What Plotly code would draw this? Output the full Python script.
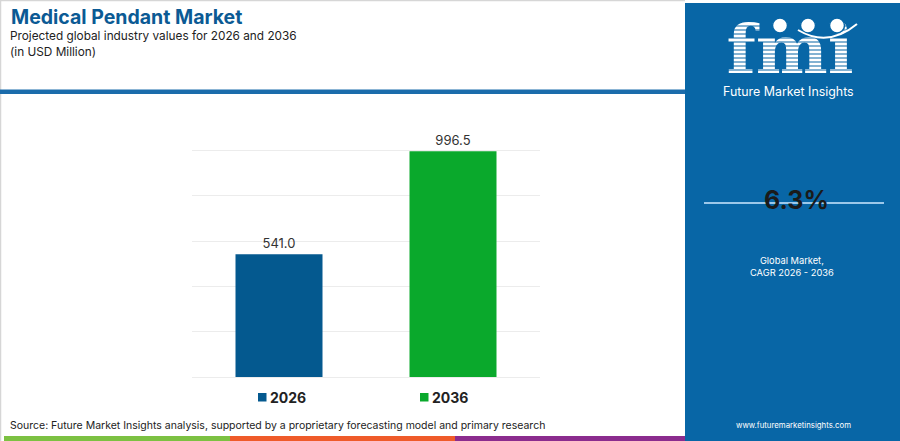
import plotly.graph_objects as go

# chart values
years = ["2026", "2036"]
values = [541.0, 996.5]
bar_colors = ["#04598f", "#0aa92c"]
cagr = "6.3%"

W, H = 900, 441
# plot area in pixels (left, right, top, bottom)
PL, PR, PT, PB = 192, 540, 105, 377


def px(x):
    return x / W


def py(y):
    return 1 - y / H


FONT = "Inter, 'Open Sans', sans-serif"
PANEL = "#0866a6"

fig = go.Figure()
for yr, v, c in zip(years, values, bar_colors):
    fig.add_trace(go.Bar(
        x=[yr], y=[v], name=yr,
        marker=dict(color=c, line=dict(width=0)),
        width=0.5,
        text=[f"{v:.1f}"], textposition="outside",
        textfont=dict(size=13, color="#333333", family=FONT),
        cliponaxis=False, showlegend=False,
    ))

# logo letters on a full-page overlay axis so the stripes can sit on top
fig.add_trace(go.Scatter(
    x=[790], y=[56], text=["<b>fmi</b>"], mode="text",
    textposition="middle center",
    textfont=dict(size=68, color="white", family="DejaVu Serif"),
    xaxis="x2", yaxis="y2", showlegend=False, hoverinfo="skip",
))

shapes = []
# right side panel
shapes.append(dict(type="rect", xref="paper", yref="paper",
                   x0=px(685), x1=px(900), y0=py(441), y1=py(3),
                   fillcolor=PANEL, line=dict(width=0), layer="below"))
# header frame + blue rule
shapes.append(dict(type="line", xref="paper", yref="paper",
                   x0=px(0), x1=px(685), y0=py(0.5), y1=py(0.5),
                   line=dict(color="#d6d6d6", width=1.5)))
shapes.append(dict(type="line", xref="paper", yref="paper",
                   x0=px(0.5), x1=px(0.5), y0=py(0), y1=py(441),
                   line=dict(color="#d6d6d6", width=1.5)))
shapes.append(dict(type="rect", xref="paper", yref="paper",
                   x0=px(0), x1=px(685), y0=py(94), y1=py(89.5),
                   fillcolor="#1b6cab", line=dict(width=0)))
# bottom colour stripe
for x0, x1, c in [(4, 230, "#7cc142"), (230, 455, "#ef5b2a"), (455, 685, "#8b2c8e")]:
    shapes.append(dict(type="rect", xref="paper", yref="paper",
                       x0=px(x0), x1=px(x1), y0=py(441), y1=py(436),
                       fillcolor=c, line=dict(width=0)))
# stripes across the logo letters
for yy in range(26, 76, 4):
    shapes.append(dict(type="line", xref="paper", yref="paper",
                       x0=px(715), x1=px(865), y0=py(yy), y1=py(yy),
                       line=dict(color=PANEL, width=1.2)))
# globes + arc above the logo
for cx in [780, 808, 837]:
    shapes.append(dict(type="circle", xref="paper", yref="paper",
                       x0=px(cx - 7.5), x1=px(cx + 7.5), y0=py(33), y1=py(18),
                       fillcolor="white", line=dict(color=PANEL, width=1.5)))
shapes.append(dict(type="path", xref="paper", yref="paper",
                   path=f"M {px(798)},{py(30)} Q {px(828)},{py(48)} {px(857)},{py(24)}",
                   line=dict(color="white", width=2)))
# line behind the CAGR value
shapes.append(dict(type="line", xref="paper", yref="paper",
                   x0=px(704), x1=px(884), y0=py(203), y1=py(203),
                   line=dict(color="#9cc8ea", width=2), layer="below"))
# legend squares
leg_x = [258, 420]
for lx, c in zip(leg_x, bar_colors):
    shapes.append(dict(type="rect", xref="paper", yref="paper",
                       x0=px(lx), x1=px(lx + 8.5), y0=py(401.5), y1=py(393),
                       fillcolor=c, line=dict(width=0)))

annotations = [
    dict(text="<b>Medical Pendant Market</b>", x=px(9), y=py(17),
         xanchor="left", yanchor="middle",
         font=dict(size=19.5, color="#0b5a94", family=FONT)),
    dict(text="Projected global industry values for 2026 and 2036", x=px(8), y=py(36),
         xanchor="left", yanchor="middle",
         font=dict(size=11.8, color="#222222", family=FONT)),
    dict(text="(in USD Million)", x=px(8), y=py(52),
         xanchor="left", yanchor="middle",
         font=dict(size=11.8, color="#222222", family=FONT)),
    dict(text="Source: Future Market Insights analysis, supported by a proprietary forecasting model and primary research",
         x=px(8), y=py(425), xanchor="left", yanchor="middle",
         font=dict(size=10.5, color="#222222", family=FONT)),
    dict(text="Future Market Insights", x=px(788), y=py(92), xanchor="center", yanchor="middle",
         font=dict(size=12.4, color="white", family=FONT)),
    dict(text=f"<b>{cagr}</b>", x=px(796), y=py(200), xanchor="center", yanchor="middle",
         font=dict(size=25, color="#1a1a1a", family=FONT)),
    dict(text="Global Market,<br>CAGR 2026 - 2036", x=px(792), y=py(266),
         xanchor="center", yanchor="middle",
         font=dict(size=9.3, color="white", family=FONT)),
    dict(text="www.futuremarketinsights.com", x=px(793), y=py(425),
         xanchor="center", yanchor="middle",
         font=dict(size=7.8, color="white", family=FONT)),
]
for lx, yr in zip(leg_x, years):
    annotations.append(dict(text=f"<b>{yr}</b>", x=px(lx + 10), y=py(397.5),
                            xanchor="left", yanchor="middle",
                            font=dict(size=14, color="#222222", family=FONT)))
for a in annotations:
    a.update(xref="paper", yref="paper", showarrow=False)

fig.update_layout(
    width=W, height=H,
    margin=dict(l=0, r=0, t=0, b=0, pad=0),
    paper_bgcolor="white", plot_bgcolor="rgba(0,0,0,0)",
    barmode="overlay",
    showlegend=False,
    xaxis=dict(domain=[PL / W, PR / W], showticklabels=False, showgrid=False,
               zeroline=False, fixedrange=True),
    yaxis=dict(domain=[1 - PB / H, 1 - PT / H], range=[0, 1200], dtick=200,
               showticklabels=False, showgrid=True, gridcolor="#ececec", gridwidth=1,
               zeroline=True, zerolinecolor="#ececec", zerolinewidth=1),
    xaxis2=dict(domain=[0, 1], range=[0, W], anchor="y2", visible=False),
    yaxis2=dict(domain=[0, 1], range=[H, 0], anchor="x2", visible=False),
    shapes=shapes, annotations=annotations,
    font=dict(family=FONT),
)

fig.write_html("out.html", config={"displayModeBar": False},
               post_script="document.body.style.margin='0';")
